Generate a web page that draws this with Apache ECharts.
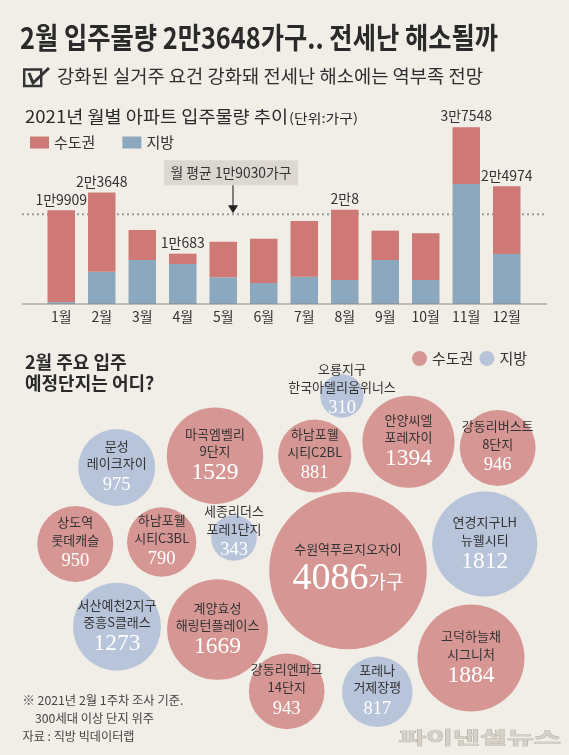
<!DOCTYPE html>
<html><head><meta charset="utf-8">
<script src="https://cdn.jsdelivr.net/npm/echarts@6/dist/echarts.min.js"></script>
<style>html,body{margin:0;padding:0;background:#f1eee8}#c{width:569px;height:755px}</style>
</head><body><div id="c"></div>
<script>
// ---------- data ----------
const months = ['1월','2월','3월','4월','5월','6월','7월','8월','9월','10월','11월','12월'];
const metroUnits = [19509,16808,6370,2193,7570,9410,11820,14908,6230,9900,12068,14354];
const localUnits = [400,6840,9340,8490,5660,4460,5800,5100,9340,5100,25480,10620];
const labeledMonthIdx = [0,1,3,7,10,11];
const monthlyAverage = 19030;
const seriesNames = ['수도권','지방'];

const complexNames = ['문성\n레이크자이','마곡엠벨리\n9단지','오룡지구\n한국아델리움위너스','하남포웰\n시티C2BL','안양씨엘\n포레자이','강동리버스트\n8단지','상도역\n롯데캐슬','하남포웰\n시티C3BL','세종리더스\n포레1단지','수원역푸르지오자이','연경지구LH\n뉴웰시티','서산예천2지구\n중흥S클래스','계양효성\n해링턴플레이스','강동리엔파크\n14단지','포레나\n거제장평','고덕하늘채\n시그니처'];
const complexUnits = [975,1529,310,881,1394,946,950,790,343,4086,1812,1273,1669,943,817,1884];
const complexRegion = ['지방','수도권','지방','수도권','수도권','수도권','수도권','수도권','지방','수도권','지방','지방','수도권','수도권','지방','수도권'];

// ---------- layout (bubble centres, px) ----------
const bubbleLayout = [[116.7,467.5],[215,455.8],[342,396],[314.7,456],[408.5,441.7],[497.7,448],[75.3,544],[161.7,542],[234,538],[348,570.5],[484.8,544],[117,626.7],[217.5,629.5],[286.7,691.3],[377.3,691.7],[471,658]];

const FONT = '"Noto Sans CJK KR", "Noto Sans", sans-serif';
const SERIF = '"Liberation Serif", "DejaVu Serif", serif';
const barRed = '#cf7976', barBlue = '#8ba8be';
const bubRed = '#d69794', bubBlue = '#b7c4da';
const PX_PER_UNIT = 0.00471;

function manFormat(v){ const m = Math.floor(v/10000), r = v % 10000; return m + '만' + (r ? r : ''); }

const chart = echarts.init(document.getElementById('c'), null, {renderer:'canvas'});
const maxUnits = Math.max(...complexUnits);

function bubbleData(region){
  const out = [];
  complexUnits.forEach((v,i) => {
    if (complexRegion[i] !== region) return;
    out.push({value:[bubbleLayout[i][0], bubbleLayout[i][1], v], idx:i,
      label: v < 500 ? {offset:[0,-5]} : undefined});
  });
  return out;
}
const bubbleLabel = {
  show:true, position:'inside', align:'center',
  formatter: p => {
    const i = p.data.idx, v = complexUnits[i];
    const lines = complexNames[i].split('\n').map(s => '{n|' + s + '}').join('\n');
    let vs;
    if (v === maxUnits) vs = '{big|' + v + '}{unit|가구}';
    else if (v >= 1000) vs = '{v2|' + v + '}';
    else vs = '{v1|' + v + '}';
    return lines + '\n' + vs;
  },
  rich: {
    n:{fontFamily:FONT, fontSize:13, lineHeight:17.5, color:'#333'},
    v1:{fontFamily:SERIF, fontSize:18.5, lineHeight:26, color:'#fff'},
    v2:{fontFamily:SERIF, fontSize:23.5, lineHeight:26, color:'#fff'},
    big:{fontFamily:SERIF, fontSize:38, lineHeight:42, color:'#fff'},
    unit:{fontFamily:FONT, fontSize:19, lineHeight:42, color:'#fff', padding:[6,0,0,0]}
  }
};
const sizeFn = val => 2 * 1.233 * Math.sqrt(val[2]);

const baseY = 304;
const yMax = 40000;

chart.setOption({
  backgroundColor:'#f1eee8',
  animation:false,
  textStyle:{fontFamily:FONT},
  legend:[
    {left:30, top:135, padding:0, itemWidth:19, itemHeight:12, itemGap:27, selectedMode:false,
     textStyle:{fontSize:15, color:'#333', fontFamily:FONT},
     data:[{name:seriesNames[0], icon:'rect', itemStyle:{color:barRed}},{name:seriesNames[1], icon:'rect', itemStyle:{color:barBlue}}]},
    {left:412, top:351, padding:0, itemWidth:15, itemHeight:15, itemGap:6, selectedMode:false,
     textStyle:{fontSize:15, color:'#333', fontFamily:FONT},
     data:[{name:seriesNames[0], icon:'circle', itemStyle:{color:bubRed}},{name:seriesNames[1], icon:'circle', itemStyle:{color:bubBlue}}]}
  ],
  grid:[
    {left:41, right:42, top: baseY - yMax*PX_PER_UNIT, bottom: 755 - baseY},
    {left:0, right:0, top:0, bottom:0}
  ],
  xAxis:[
    {type:'category', gridIndex:0, data:months, axisLine:{show:false}, axisTick:{show:false},
     axisLabel:{fontSize:14, color:'#333', margin:6, fontFamily:FONT}},
    {type:'value', gridIndex:1, min:0, max:569, show:false}
  ],
  yAxis:[
    {type:'value', gridIndex:0, min:0, max:yMax, show:false},
    {type:'value', gridIndex:1, min:0, max:755, inverse:true, show:false}
  ],
  series:[
    {type:'bar', name:seriesNames[1], stack:'m', xAxisIndex:0, yAxisIndex:0, data:localUnits, barWidth:27.5,
     itemStyle:{color:barBlue}, z:3},
    {type:'bar', name:seriesNames[0], stack:'m', xAxisIndex:0, yAxisIndex:0, data:metroUnits, barWidth:27.5,
     itemStyle:{color:barRed}, z:3,
     label:{show:true, position:'top', distance:4, fontSize:14, color:'#333', fontFamily:FONT,
       formatter: p => labeledMonthIdx.includes(p.dataIndex) ? manFormat(metroUnits[p.dataIndex] + localUnits[p.dataIndex]) : ''}},
    {type:'scatter', name:seriesNames[0], xAxisIndex:1, yAxisIndex:1, data:bubbleData('수도권'),
     symbolSize:sizeFn, itemStyle:{color:bubRed, opacity:1}, label:bubbleLabel, silent:true},
    {type:'scatter', name:seriesNames[1], xAxisIndex:1, yAxisIndex:1, data:bubbleData('지방'),
     symbolSize:sizeFn, itemStyle:{color:bubBlue, opacity:1}, label:bubbleLabel, silent:true}
  ]
});

// ---------- text & annotations ----------
const mctx = document.createElement('canvas').getContext('2d');
function measure(text, font){ mctx.font = font; return mctx.measureText(text).width; }
function txt(text, x, y, size, opts){
  opts = opts || {};
  const weight = opts.weight || 'normal';
  const family = opts.family || FONT;
  const font = weight + ' ' + size + 'px ' + family;
  let sx = 1;
  if (opts.width) sx = opts.width / measure(text, font);
  return {type:'text', x:x, y:y, scaleX:sx, scaleY:opts.scaleY || 1, z:10,
    style:{text:text, x:0, y:0, font:font, fill:opts.color || '#2e2e2e',
      stroke:opts.stroke, lineWidth:opts.lineWidth,
      align:opts.align || 'left', verticalAlign:'middle',
      textAlign:opts.align || 'left', textVerticalAlign:'middle'}};
}

const avgY = chart.convertToPixel({yAxisIndex:0}, monthlyAverage);
const zeroY = chart.convertToPixel({yAxisIndex:0}, 0);
const arrowX = 233;

chart.setOption({
  graphic:[
    txt('2월 입주물량 2만3648가구.. 전세난 해소될까', 20, 37.5, 29, {weight:'bold', width:478, color:'#2a2a2a'}),
    {type:'group', x:23, y:67, z:10, children:[
      {type:'rect', shape:{x:1.2, y:2.5, width:17, height:16.5}, style:{fill:'none', stroke:'#333', lineWidth:2.4}},
      {type:'polyline', shape:{points:[[6,6],[10,16],[26,1]]}, style:{fill:'none', stroke:'#333', lineWidth:3}}
    ]},
    txt('강화된 실거주 요건 강화돼 전세난 해소에는 역부족 전망', 57, 76.5, 18, {width:426, color:'#2e2e2e'}),
    txt('2021년 월별 아파트 입주물량 추이', 25, 116.5, 17.5, {width:263, color:'#2a2a2a'}),
    txt('(단위:가구)', 289, 118, 13, {width:69, color:'#2a2a2a'}),
    {type:'line', z:1, shape:{x1:22, y1:avgY, x2:547, y2:avgY}, style:{stroke:'#999', lineWidth:2, lineDash:[2,3]}},
    {type:'line', z:5, shape:{x1:22, y1:zeroY, x2:547, y2:zeroY}, style:{stroke:'#8a8a8a', lineWidth:1}},
    {type:'rect', z:6, shape:{x:164, y:avgY-54, width:134, height:25}, style:{fill:'#dcd8d1'}},
    txt('월 평균 ' + manFormat(monthlyAverage) + '가구', 231, avgY-41.5, 14, {align:'center', width:121, color:'#333'}),
    {type:'line', z:6, shape:{x1:arrowX, y1:avgY-29, x2:arrowX, y2:avgY-7}, style:{stroke:'#333', lineWidth:1.2}},
    {type:'polygon', z:6, shape:{points:[[arrowX-5,avgY-9],[arrowX+5,avgY-9],[arrowX,avgY-1]]}, style:{fill:'#222'}},
    txt('2월 주요 입주', 25, 362.5, 18, {weight:'bold', color:'#2a2a2a'}),
    txt('예정단지는 어디?', 25, 383.5, 18, {weight:'bold', color:'#2a2a2a'}),
    txt('※ 2021년 2월 1주차 조사 기준.', 22.5, 700.5, 12, {width:161, color:'#444'}),
    txt('300세대 이상 단지 위주', 35, 718, 12, {width:119, color:'#444'}),
    txt('자료 : 직방 빅데이터랩', 22.5, 736, 12, {width:112, color:'#444'}),
    txt('파이낸셜뉴스', 399, 738, 22, {weight:'bold', width:162, scaleY:0.75, color:'#d6d1c8', stroke:'#aaa397', lineWidth:0.8})
  ]
});
</script></body></html>
